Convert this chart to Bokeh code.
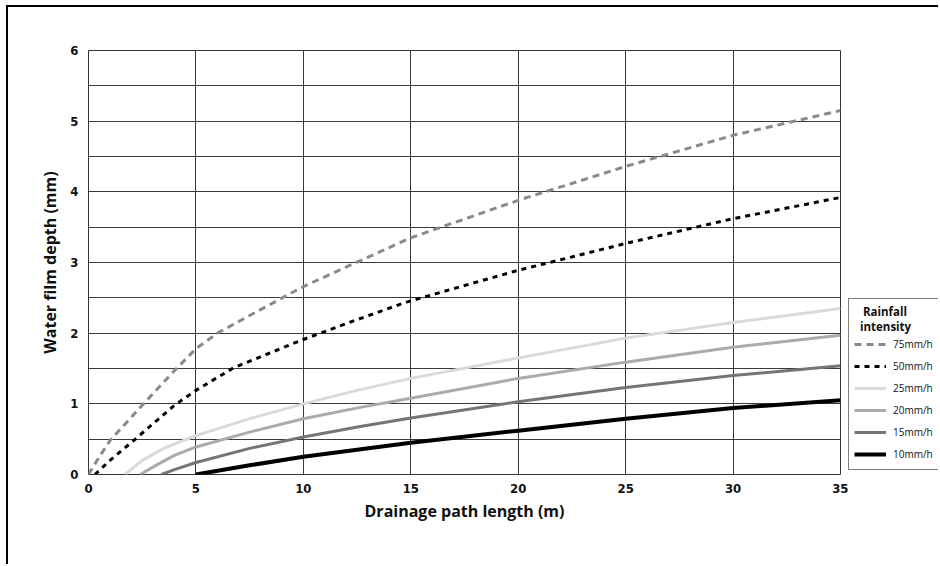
from bokeh.plotting import figure
from bokeh.layouts import row
from bokeh.models import Legend, LegendItem, FixedTicker, SingleIntervalTicker
from bokeh.embed import file_html
from bokeh.resources import INLINE

# Data: drainage path length (m) vs water film depth (mm)
x75 = [0, 0.5, 1, 2.5, 4, 5, 6, 7.5, 10, 15, 20, 25, 30, 35]
y75 = [0, 0.25, 0.48, 0.98, 1.47, 1.78, 2.0, 2.25, 2.66, 3.35, 3.88, 4.36, 4.80, 5.15]

x50 = [0.3, 1, 2.1, 4, 5, 6.75, 9.9, 12.4, 14.8, 20, 23.7, 25, 30, 35]
y50 = [0, 0.2, 0.48, 0.98, 1.19, 1.51, 1.9, 2.18, 2.44, 2.89, 3.17, 3.27, 3.62, 3.92]

x25 = [1.7, 2.5, 3.5, 5, 7.5, 10, 12.5, 15, 20, 25, 30, 35]
y25 = [0, 0.2, 0.37, 0.55, 0.79, 1.0, 1.19, 1.36, 1.65, 1.93, 2.15, 2.35]

x20 = [2.4, 3.2, 4, 5, 7.5, 10, 12.65, 15, 20, 25, 30, 35]
y20 = [0, 0.14, 0.27, 0.39, 0.6, 0.79, 0.95, 1.08, 1.36, 1.59, 1.80, 1.97]

x15 = [3.4, 4, 5, 7.5, 10, 12.65, 15, 20, 25, 30, 35]
y15 = [0, 0.07, 0.17, 0.37, 0.53, 0.68, 0.80, 1.03, 1.23, 1.40, 1.54]

x10 = [5, 7.5, 10, 15, 20, 25, 30, 35]
y10 = [0, 0.13, 0.25, 0.45, 0.62, 0.79, 0.94, 1.05]

labels = ["75mm/h", "50mm/h", "25mm/h", "20mm/h", "15mm/h", "10mm/h"]
x_ticks = [0, 5, 10, 15, 20, 25, 30, 35]

styles = [
    dict(line_color="#8a8a8a", line_width=3, line_dash="7 5"),
    dict(line_color="#000000", line_width=3, line_dash="5 5"),
    dict(line_color="#dadada", line_width=3),
    dict(line_color="#ababab", line_width=3),
    dict(line_color="#757575", line_width=3),
    dict(line_color="#000000", line_width=4),
]
series = [(x75, y75), (x50, y50), (x25, y25), (x20, y20), (x15, y15), (x10, y10)]

# ---- main chart ----
p = figure(width=842, height=559, output_backend="svg", toolbar_location=None,
           x_range=(0, 35), y_range=(0, 6),
           min_border_left=80, min_border_right=10, min_border_top=43, min_border_bottom=92,
           background_fill_color="white", border_fill_color="white")
p.margin = (5, 0, 0, 6)
p.styles = {"border-left": "2px solid black", "border-top": "2px solid black"}

p.outline_line_color = "#333333"
p.outline_line_width = 1

p.xaxis.ticker = FixedTicker(ticks=x_ticks)
p.yaxis.ticker = SingleIntervalTicker(interval=1, num_minor_ticks=2)
p.xgrid.ticker = FixedTicker(ticks=x_ticks)
for g in (p.xgrid, p.ygrid):
    g.grid_line_color = "#3a3a3a"
    g.grid_line_width = 1
p.ygrid.minor_grid_line_color = "#3a3a3a"
p.ygrid.minor_grid_line_width = 1

for ax in (p.xaxis, p.yaxis):
    ax.axis_line_color = None
    ax.major_tick_line_color = None
    ax.minor_tick_line_color = None
    ax.major_label_text_font = "DejaVu Sans Condensed"
    ax.major_label_text_font_style = "bold"
    ax.major_label_text_font_size = "13px"
    ax.major_label_text_color = "#111111"
    ax.axis_label_text_font = "Open Sans"
    ax.axis_label_text_font_style = "bold"
    ax.axis_label_text_font_size = "16px"
    ax.axis_label_text_color = "#111111"

p.xaxis.axis_label = "Drainage path length (m)"
p.yaxis.axis_label = "Water film depth (mm)"
p.xaxis.major_label_standoff = 3
p.yaxis.major_label_standoff = 4
p.xaxis.axis_label_standoff = 4
p.yaxis.axis_label_standoff = 6

for (xs, ys), st in zip(series, styles):
    p.line(xs, ys, **st)

# ---- legend panel to the right of the chart ----
# Its ranges lie outside the data so the proxy lines only feed the legend.
q = figure(width=90, height=559, output_backend="svg", toolbar_location=None,
           x_range=(-3, -2), y_range=(-3, -2), x_axis_type=None, y_axis_type=None,
           min_border=0, outline_line_color=None,
           background_fill_color="white", border_fill_color="white")
q.margin = (5, 0, 0, 0)
q.styles = {"border-top": "2px solid black"}
q.xgrid.visible = False
q.ygrid.visible = False

legend_renderers = [q.line(xs, ys, **st) for (xs, ys), st in zip(series, styles)]
items = [LegendItem(label=l, renderers=[r]) for l, r in zip(labels, legend_renderers)]
legend = Legend(items=items, location=(0, 4), orientation="vertical",
                title="\u00a0\u00a0\u00a0Rainfall\n\u00a0\u00a0intensity",
                title_text_font="Open Sans", title_text_font_style="bold",
                title_text_font_size="11.5px", title_text_color="#111111",
                title_standoff=0,
                label_text_font="Open Sans", label_text_font_size="10px",
                label_text_color="#111111",
                glyph_width=32, glyph_height=20, label_height=20,
                spacing=2, padding=5, margin=0, label_standoff=7,
                border_line_color="#000000", border_line_width=1,
                background_fill_color="white", background_fill_alpha=1)
q.add_layout(legend, "center")

layout = row(p, q, spacing=0)
open("out.html", "w").write(file_html(layout, INLINE))
